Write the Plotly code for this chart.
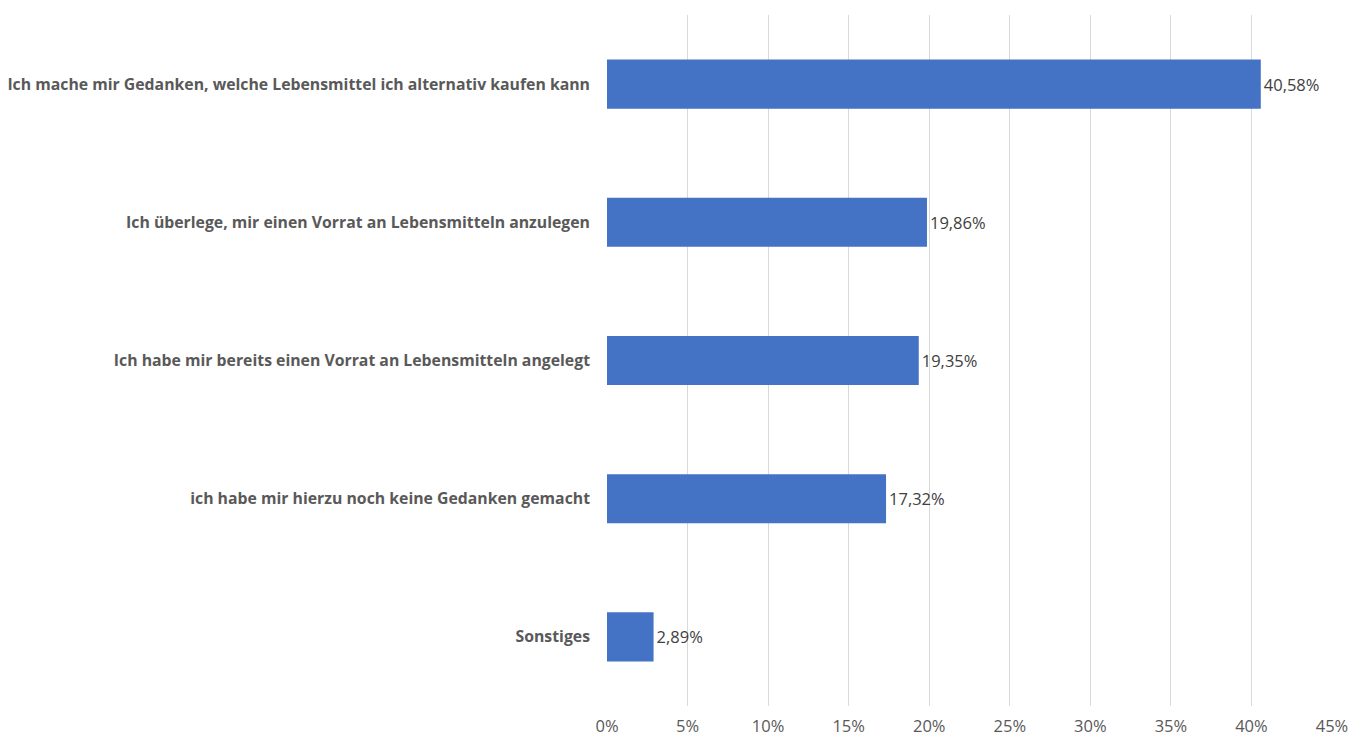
import plotly.graph_objects as go

categories = [
    "Ich mache mir Gedanken, welche Lebensmittel ich alternativ kaufen kann",
    "Ich überlege, mir einen Vorrat an Lebensmitteln anzulegen",
    "Ich habe mir bereits einen Vorrat an Lebensmitteln angelegt",
    "ich habe mir hierzu noch keine Gedanken gemacht",
    "Sonstiges",
]
values = [40.58, 19.86, 19.35, 17.32, 2.89]
labels = [f"{v:.2f}%".replace(".", ",") for v in values]
tick_vals = [0, 5, 10, 15, 20, 25, 30, 35, 40, 45]
tick_text = [f"{t}%" for t in tick_vals]

fig = go.Figure(go.Bar(
    x=values,
    y=categories,
    orientation="h",
    marker=dict(color="#4472C4", line=dict(width=0)),
    text=labels,
    textposition="outside",
    textfont=dict(family="Open Sans, Lato, sans-serif", size=16.5, color="#404040"),
    cliponaxis=False,
))

fig.update_layout(
    width=1353, height=730,
    paper_bgcolor="white", plot_bgcolor="white",
    margin=dict(l=599, r=29, t=7, b=32, autoexpand=False),
    bargap=0.645,
    showlegend=False,
    xaxis=dict(
        range=[0, 45], tickvals=tick_vals, ticktext=tick_text,
        showgrid=True, gridcolor="#D9D9D9", gridwidth=1,
        zeroline=False, showline=False, automargin=False,
        ticklabelstandoff=8,
        tickfont=dict(family="Open Sans, Lato, sans-serif", size=16.5, color="#595959"),
    ),
    yaxis=dict(
        autorange="reversed",
        showgrid=False, zeroline=False, showline=False, automargin=False,
        ticklabelstandoff=16,
        tickfont=dict(family="Open Sans, Lato, sans-serif", size=15.8, color="#595959", weight="bold"),
    ),
)

fig.write_html("out.html")
